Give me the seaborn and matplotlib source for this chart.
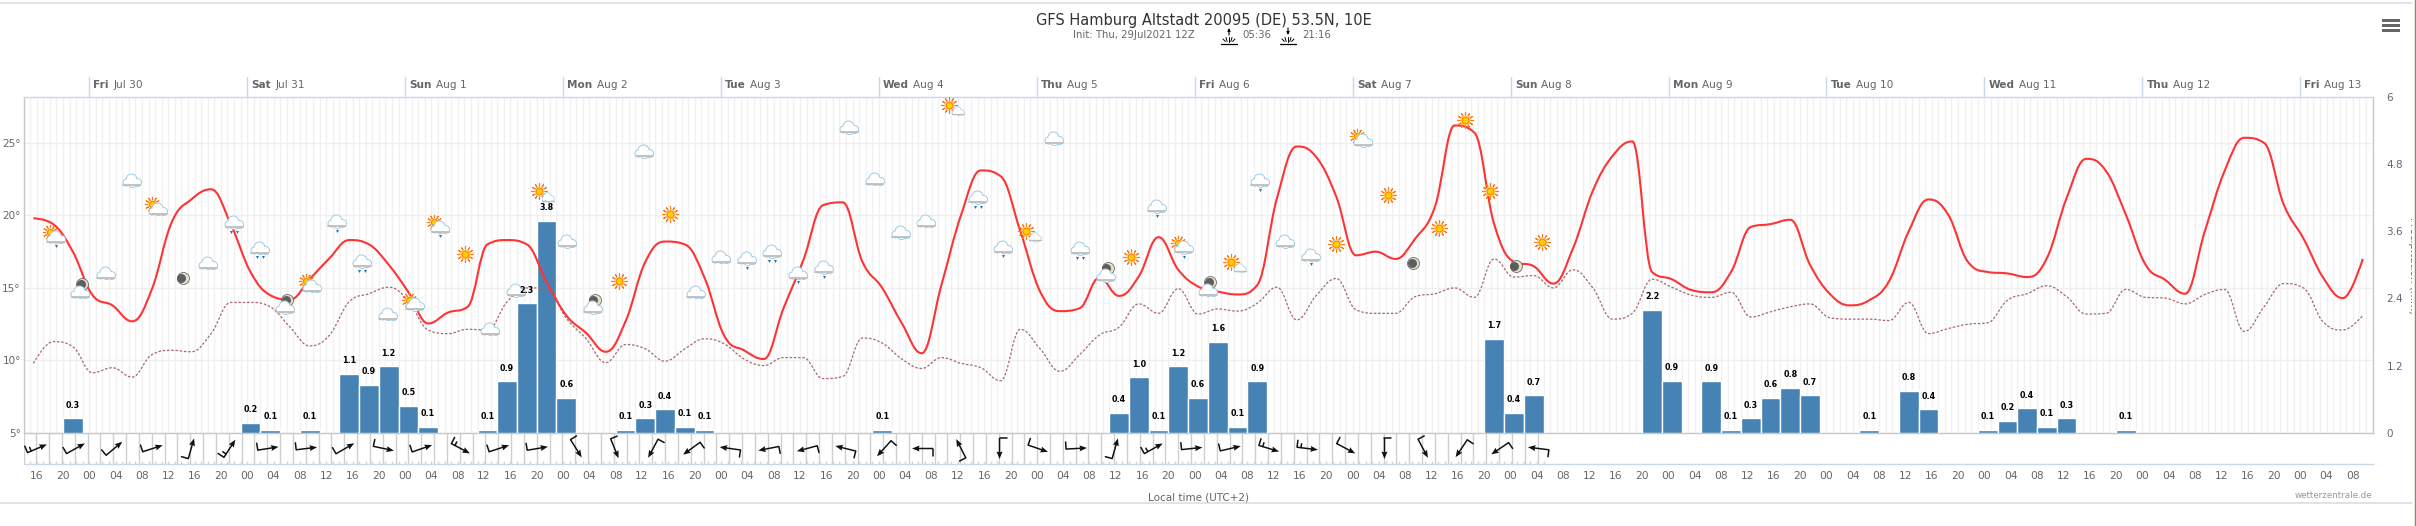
import numpy as np
import pandas as pd
import matplotlib
matplotlib.use('Agg')
import matplotlib.pyplot as plt
from matplotlib.patches import PathPatch, Rectangle
from matplotlib.path import Path
import seaborn as sns

# 3-hourly values, first one is Jul 29 15:30 local
temp = [19.8, 19.4, 17.5, 14.5, 13.8, 12.7, 14.9, 19.5, 21.1, 21.8, 19.4, 16.1, 14.5, 14.2, 15.6, 17.05, 18.3, 18.0, 16.6, 14.7,
        12.55, 13.3, 13.7, 18.0, 18.3, 18.0, 15.4, 13.1, 11.9, 10.6, 12.7, 16.8, 18.2, 18.0, 15.7, 11.7, 10.7, 10.1, 13.6, 16.9,
        20.7, 20.9, 16.8, 15.0, 12.55, 10.5, 15.2, 20.05, 23.1, 22.7, 18.9, 14.75, 13.4, 13.6, 15.7, 14.45, 15.8, 18.5, 16.25, 15.1,
        14.75, 14.55, 15.2, 21.2, 24.75, 24.0, 21.3, 17.25, 17.5, 17.0, 18.4, 20.6, 26.2, 25.7, 19.4, 16.8, 16.5, 15.3, 17.75, 21.7,
        24.1, 25.1, 16.1, 15.6, 14.85, 14.7, 16.1, 19.2, 19.4, 19.7, 16.6, 14.6, 13.8, 14.15, 15.45, 18.9, 21.1, 20.05, 16.8, 16.1,
        16.0, 15.75, 17.05, 21.2, 23.9, 23.05, 20.05, 16.6, 15.55, 14.6, 18.9, 23.05, 25.35, 25.0, 20.75, 18.4, 15.7, 14.3, 17.0]
dew = [9.8, 11.3, 10.95, 9.15, 9.5, 8.85, 10.4, 10.7, 10.6, 11.85, 14.0, 14.0, 13.7, 12.3, 11.0, 11.75, 14.05, 14.6, 15.05, 14.1,
       12.1, 11.85, 12.15, 12.1, 14.05, 15.0, 15.0, 12.9, 11.5, 9.85, 11.1, 10.8, 9.95, 10.8, 11.5, 11.15, 10.1, 9.65, 10.2, 10.2,
       8.75, 8.9, 11.55, 11.2, 10.1, 9.45, 10.2, 9.8, 9.5, 8.6, 12.15, 10.8, 9.25, 10.4, 11.75, 12.3, 13.9, 13.25, 14.95, 13.2,
       13.55, 13.4, 13.95, 15.05, 12.8, 14.5, 15.65, 13.5, 13.25, 13.25, 14.4, 14.6, 15.0, 14.35, 17.0, 15.75, 15.85, 15.0, 16.25, 15.0,
       12.85, 13.25, 15.6, 15.05, 14.5, 14.35, 14.7, 13.0, 13.35, 13.7, 13.9, 12.95, 12.85, 12.85, 12.75, 14.0, 11.85, 12.2, 12.5, 12.6,
       14.15, 14.6, 15.15, 14.4, 13.2, 13.25, 14.9, 14.35, 14.3, 13.9, 14.55, 14.9, 12.0, 13.7, 15.3, 15.0, 12.65, 12.1, 13.1]
bar_steps = [2, 11, 12, 14, 16, 17, 18, 19, 20, 23, 24, 25, 26, 27, 30, 31, 32, 33, 34, 43, 55, 56, 57, 58, 59, 60, 61, 62,
             74, 75, 76, 82, 83, 85, 86, 87, 88, 89, 90, 93, 95, 96, 99, 100, 101, 102, 103, 106]
bar_mm = [.26, .18, .06, .06, 1.06, .86, 1.19, .49, .11, .06, .92, 2.31, 3.79, .62, .06, .26, .42, .11, .06, .06, .36, .99, .06, 1.19,
          .62, 1.62, .11, .92, 1.68, .365, .67, 2.19, .93, .92, .06, .26, .62, .81, .67, .06, .75, .42, .06, .22, .44, .11, .26, .06]

# arrow direction on screen (deg), and how many barbs on the tail
wind_dir = [23, 29, 40, 18, 74, 57, 9, 7, 30, -12, 19, -28, 18, 9.5, -58, -68, -118, -144, 172, -169,
            -165, 166, -132, 180, 117, -90, -19, 3, 74, 29, 6, 13, -17, -7, -28, -90, -62, -124, -146, 173]
wind_barbs = [2, 1, 1, 1, 1, 2, 1, 1, 1, 1, 1, 2, 1, 1, 1, 1, 1, 1, 1, 1,
              1, 1, 1, 1, 1, 1, 1, 1, 1, 2, 1, 1, 2, 2, 1, 1, 1, 1, 1, 1]

# weather icons, one every 3.9 h: C cloud, L light rain, R rain, S sun, P sun+cloud,
# Q sun+cloud+rain, B sun+small cloud, M moon, N moon+cloud
icon_kind = list('QNCCPMCRRNPLRCPQSCCBCNSCSCCLRL'
                 'LCCCCBRLBCRNSLQNBLCLSPSMSSSMS')
icon_temp = [18.56, 14.98, 16.0, 22.4, 20.5, 15.7, 16.7, 19.5, 17.75, 13.9, 15.2, 19.55, 16.8, 13.2, 13.9, 19.25, 17.35, 12.15, 14.8,
             21.45, 18.2, 13.9, 15.5, 24.4, 20.1, 14.7, 17.1, 17.0, 17.5,
             16.0, 16.4, 26.05, 22.5, 18.8, 19.6, 27.4, 21.2, 17.8, 18.7, 25.3, 17.7, 16.1, 17.15, 20.6, 17.85, 15.1, 16.6, 22.4, 18.2,
             17.25, 18.05, 25.2, 21.4, 16.7, 19.1, 26.6, 21.7, 16.5, 18.2]

day_names = ['Fri', 'Sat', 'Sun', 'Mon', 'Tue', 'Wed', 'Thu', 'Fri', 'Sat', 'Sun', 'Mon', 'Tue', 'Wed', 'Thu', 'Fri']
day_dates = ['Jul 30', 'Jul 31', 'Aug 1', 'Aug 2', 'Aug 3', 'Aug 4', 'Aug 5', 'Aug 6', 'Aug 7', 'Aug 8', 'Aug 9', 'Aug 10',
             'Aug 11', 'Aug 12', 'Aug 13']

W, H = 2416, 526
L, R, T, B, ROW = 23.5, 2372.6, 96.6, 433, 464
HOURS = 357  # x axis runs in hours from Jul 29 14:00
PXH = (R - L) / HOURS
PXT = (B - T) / 23.19
GREY = '#666666'

sns.set_theme(style='white')
plt.rcParams['font.family'] = ['DejaVu Sans']

fig = plt.figure(figsize=(W / 100, H / 100), dpi=100)
ax = fig.add_axes([L / W, 1 - B / H, (R - L) / W, (B - T) / H])
ax2 = ax.twinx()
ax3 = ax.twinx()
ax4 = ax.twinx()
for i, a in enumerate((ax, ax2, ax3, ax4)):
    a.set_zorder(i + 1)
    if i:
        a.patch.set_visible(False)

df = pd.DataFrame({'hour': 1.5 + 3 * np.arange(len(temp)), 'temp': temp, 'dew': dew})
bars = pd.DataFrame({'hour': 1.5 + 3 * np.array(bar_steps), 'mm': bar_mm})

sns.barplot(data=bars, x='hour', y='mm', native_scale=True, width=1, color='#4682b4', saturation=1, ax=ax2)
for h, v in zip(bars['hour'], bars['mm']):
    ax4.annotate('%.1f' % v, xy=(h, v), xytext=(0, 6.3), textcoords='offset points', ha='center', va='bottom',
                 fontsize=5.8, fontweight='bold', color='black')


def spline_path(x, y):
    # same curve the web chart draws through its points
    verts = [(x[0], y[0])]
    codes = [Path.MOVETO]
    last_rx, last_ry = x[0], y[0]
    for i in range(1, len(x)):
        if i == len(x) - 1:
            lx, ly, rx, ry = x[i], y[i], x[i], y[i]
        else:
            lx = (1.5 * x[i] + x[i - 1]) / 2.5
            ly = (1.5 * y[i] + y[i - 1]) / 2.5
            rx = (1.5 * x[i] + x[i + 1]) / 2.5
            ry = (1.5 * y[i] + y[i + 1]) / 2.5
            fix = (ry - ly) * (rx - x[i]) / (rx - lx) + y[i] - ry
            ly += fix
            ry += fix
            if ly > max(y[i - 1], y[i]):
                ly = max(y[i - 1], y[i])
                ry = 2 * y[i] - ly
            elif ly < min(y[i - 1], y[i]):
                ly = min(y[i - 1], y[i])
                ry = 2 * y[i] - ly
            if ry > max(y[i + 1], y[i]):
                ry = max(y[i + 1], y[i])
                ly = 2 * y[i] - ry
            elif ry < min(y[i + 1], y[i]):
                ry = min(y[i + 1], y[i])
                ly = 2 * y[i] - ry
        verts += [(last_rx, last_ry), (lx, ly), (x[i], y[i])]
        codes += [Path.CURVE4] * 3
        last_rx, last_ry = rx, ry
    return Path(verts, codes)


sns.lineplot(data=df, x='hour', y='dew', color='#a8686e', lw=0.9, dashes=(2, 1.4), ax=ax3)
sns.lineplot(data=df, x='hour', y='temp', color='#ff3333', lw=1.5, ax=ax3)
# lineplot only joins with straight segments, swap them for the spline
for line, ls in zip(list(ax3.lines), [(0, (2, 1.4)), '-']):
    xd, yd = line.get_data()
    ax3.add_patch(PathPatch(spline_path(xd, yd), fc='none', ec=line.get_color(), lw=line.get_linewidth(), ls=ls, zorder=2))
    line.set_visible(False)


def circle(x, y, dx, dy, d, **kw):
    ax3.scatter(x + dx / PXH, y + dy / PXT, s=(d * 0.72) ** 2, linewidths=kw.pop('lw', 0), clip_on=False, **kw)


def cloud(x, y, k=1.0):
    puffs = [(-6, -1.5, 6), (-1, 1.5, 10), (5, -1.5, 7), (0, -2, 7)]
    for dx, dy, d in puffs:
        circle(x, y, dx * k, dy * k, (d + 2) * k, color='#9fcde6', zorder=5)
    for dx, dy, d in puffs:
        circle(x, y, dx * k, dy * k, d * k, color='white', zorder=6)
    ax3.plot([x - 8.5 * k / PXH, x + 8.5 * k / PXH], [y - 4.5 * k / PXT] * 2, color='#bdbdbd', lw=1.3 * k, zorder=7, clip_on=False)


def sun(x, y, k=1.0):
    circle(x, y, 0, 0, 16 * k, marker=(12, 2, 0), color='#ff7a10', lw=0.8, zorder=5)
    circle(x, y, 0, 0, 9.5 * k, color='white', zorder=5)
    circle(x, y, 0, 0, 7 * k, color='#ffd000', edgecolor='#ff8c00', lw=1.0, zorder=5)


def moon(x, y):
    circle(x, y, 0, 0, 12, color='#e4dfc8', edgecolor='#555555', lw=0.5, zorder=5)
    circle(x, y, -1.5, 0, 9, color='#5e5e5e', zorder=5)


def drops(x, y, n):
    for i in range(n):
        circle(x, y, (i - (n - 1) / 2) * 6, -9, 3, color='#2a74b0', marker='v', zorder=7)


for i, (kind, t) in enumerate(zip(icon_kind, icon_temp)):
    h = 4.73 + 3.896 * i
    if kind == 'C':
        cloud(h, t)
    elif kind == 'L':
        cloud(h, t)
        drops(h, t, 1)
    elif kind == 'R':
        cloud(h, t)
        drops(h, t, 2)
    elif kind == 'S':
        sun(h, t)
    elif kind == 'M':
        moon(h, t)
    elif kind == 'N':
        moon(h + 2 / PXH, t + 4 / PXT)
        cloud(h, t - 4 / PXT)
    elif kind == 'B':
        sun(h - 3 / PXH, t + 3 / PXT)
        cloud(h + 6 / PXH, t - 3 / PXT, 0.7)
    else:
        sun(h - 5 / PXH, t + 4 / PXT, 0.9)
        cloud(h + 1 / PXH, t - 1 / PXT)
        if kind == 'Q':
            drops(h + 1 / PXH, t - 1 / PXT, 1)

for a in (ax, ax2, ax3, ax4):
    a.set_xlim(0, HOURS)
    a.set_xlabel('')
    a.set_ylabel('')
ax.set_ylim(5, 28.19)
ax3.set_ylim(5, 28.19)
ax2.set_ylim(0, 6)
ax4.set_ylim(0, 6)
for a in (ax3, ax4):
    a.set_yticks([])
    a.set_xticks([])

# grids stay on the lowest axes so the bars cover them
ax.set_xticks(10 + 24 * np.arange(15))
ax.set_xticks(np.arange(0, HOURS + 1), minor=True)
ax.set_yticks([5, 10, 15, 20, 25])
ax.set_yticklabels(['5°', '10°', '15°', '20°', '25°'], fontsize=7.5, color=GREY)
ax.set_xticklabels([])
ax.grid(True, which='major', axis='x', color='#e4e4e4', lw=1)
ax.grid(True, which='minor', axis='x', color='#f1f1f1', lw=1)
ax.grid(True, which='major', axis='y', color='#efefef', lw=1)
ax.tick_params(axis='both', which='both', length=0, pad=2)
ax2.set_yticks([0, 1.2, 2.4, 3.6, 4.8, 6])
ax2.set_yticklabels(['0', '1.2', '2.4', '3.6', '4.8', '6'], fontsize=7.5, color=GREY)
ax2.set_xticks([])
ax2.tick_params(axis='y', length=0, pad=10)

for a in (ax, ax2, ax3, ax4):
    for s in a.spines.values():
        s.set_visible(False)
ax.spines['top'].set(visible=True, color='#ccd6eb', lw=1)
ax.spines['left'].set(visible=True, color='#c8c8c8', lw=1)
ax.spines['right'].set(visible=True, color='#c8c8c8', lw=1)
ax.spines['bottom'].set(visible=True, color='#c8c8c8', lw=1)

# day header above the plot
for i, (name, date) in enumerate(zip(day_names, day_dates)):
    h = 10 + 24 * i
    ax.plot([h, h], [1, 1 + 19.6 / (B - T)], color='#ccd6eb', lw=1, transform=ax.get_xaxis_transform(), clip_on=False)
    a1 = ax.annotate(name, xy=(h, 1), xycoords=ax.get_xaxis_transform(), xytext=(3, 5), textcoords='offset points',
                     fontsize=7.6, fontweight='bold', color=GREY, va='bottom')
    ax.annotate(date, xy=(1, 0), xycoords=a1, xytext=(3, 0), textcoords='offset points', fontsize=7.6, color=GREY, va='bottom')

# wind row under the plot, y in pixels
wax = fig.add_axes([L / W, 1 - ROW / H, (R - L) / W, (ROW - B) / H])
wax.set_xlim(0, HOURS)
wax.set_ylim(0, ROW - B)
wax.patch.set_visible(False)
for s in wax.spines.values():
    s.set_visible(False)
wax.spines['bottom'].set(visible=True, color='#ccd6eb', lw=1)
wax.vlines(np.arange(0, 231, 1.95), 0, ROW - B, color='#cfcfcf', lw=1)
wax.vlines(np.arange(0, 232), 0, 3, color='#ccd6eb', lw=1)
wind_h = 2.08 + 5.85 * np.arange(len(wind_dir))
rad = np.radians(wind_dir)
ARROW = 21
wx = wind_h - np.cos(rad) * ARROW / 2 / PXH
wy = 15.5 - np.sin(rad) * ARROW / 2
wax.quiver(wx, wy, np.cos(rad) * ARROW / PXH, np.sin(rad) * ARROW, angles='xy', scale_units='xy', scale=1, units='dots',
           width=1.5, headwidth=4, headlength=5, headaxislength=4.5, color='#111111', zorder=5)
for x0, y0, a, n in zip(wx, wy, rad, wind_barbs):
    for b in range(n):
        off, size = (0, 7) if b == 0 else (4, 4)
        bx = x0 + np.cos(a) * off / PXH
        by = y0 + np.sin(a) * off
        wax.plot([bx, bx - np.sin(a) * size / PXH], [by, by + np.cos(a) * size], color='#111111', lw=1.1, zorder=5)
tick_h = 2 + 4 * np.arange(89)
wax.set_xticks(tick_h)
wax.set_xticklabels(['%02d' % ((14 + h) % 24) for h in tick_h], fontsize=7.7, color=GREY)
wax.set_yticks([])
wax.tick_params(axis='x', length=0, pad=5)

# page furniture in pixel coordinates
page = fig.add_axes([0, 0, 1, 1], zorder=10)
page.set_xlim(0, W)
page.set_ylim(H, 0)
page.axis('off')
page.patch.set_visible(False)
page.plot([0, 2412], [2.5, 2.5], color='#dddddd', lw=1.2)
page.plot([0, 2412], [503, 503], color='#dddddd', lw=1.2)
page.plot([2415, 2415], [0, H], color='#6f9a5a', lw=1)
page.text(1204, 20, 'GFS Hamburg Altstadt 20095 (DE) 53.5N, 10E', ha='center', va='center', fontsize=10.5, color='#333333')
page.text(1073, 35, 'Init: Thu, 29Jul2021 12Z', ha='left', va='center', fontsize=7.3, color=GREY)
page.text(1242, 35, '05:36', ha='left', va='center', fontsize=7.3, color=GREY)
page.text(1302, 35, '21:16', ha='left', va='center', fontsize=7.3, color=GREY)
for cx, head in ((1229, 28), (1288, 35)):
    tail = 35 if head == 28 else 28
    page.annotate('', xy=(cx, head), xytext=(cx, tail), arrowprops=dict(arrowstyle='-|>', color='black', lw=0.8, mutation_scale=4, shrinkA=0, shrinkB=0))
    page.plot([cx - 8, cx + 8], [43.5, 43.5], color='black', lw=0.9)
    for dx, dy in ((-6, 39), (-3, 37.5), (0, 37), (3, 37.5), (6, 39)):
        page.plot([cx + dx * 0.6, cx + dx], [41.5, dy], color='black', lw=0.7)
for yb in (20, 25, 30):
    page.add_patch(Rectangle((2382, yb - 1.5), 18, 3, fc=GREY, lw=0))
page.text(1198, 498, 'Local time (UTC+2)', ha='center', va='center', fontsize=7.5, color=GREY)
page.text(2372, 495, 'wetterzentrale.de', ha='right', va='center', fontsize=6.3, color='#999999')
pt = page.text(2413, 266, 'Precipitation (mm)', rotation=270, ha='center', va='center', fontsize=7.5, color=GREY)
pt.set_clip_path(Rectangle((2400, 200), 12, 130, transform=page.transData))
pt.set_clip_on(True)

fig.savefig('out.png', dpi=100)
